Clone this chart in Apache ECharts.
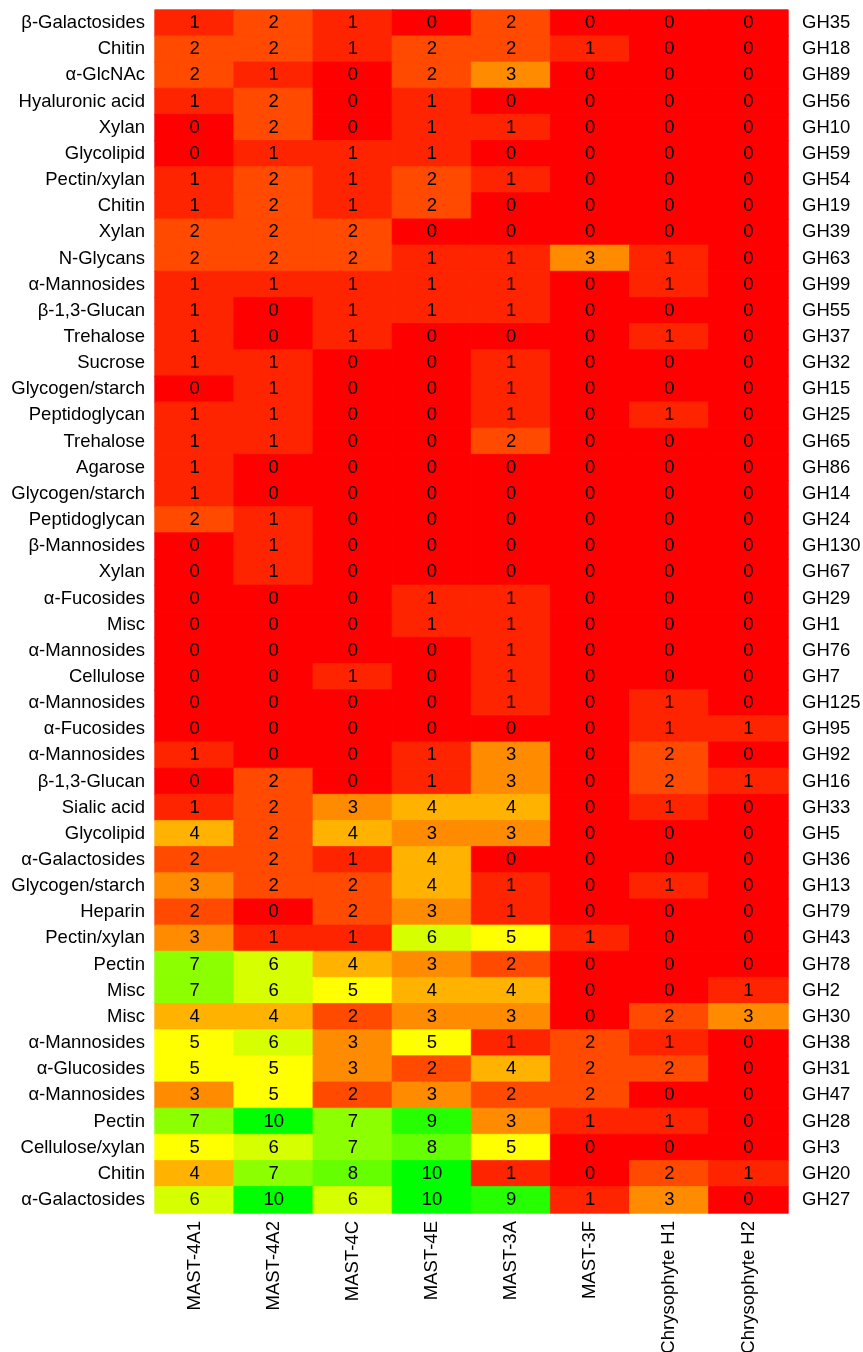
<!DOCTYPE html>
<html>
<head>
<meta charset="utf-8">
<script src="https://cdn.jsdelivr.net/npm/echarts@6/dist/echarts.min.js"></script>
<style>
html,body{margin:0;padding:0;background:#fff;overflow:hidden;}
#chart{width:863px;height:1352px;}
</style>
</head>
<body>
<div id="chart"></div>
<script>
const groups = ['MAST-4A1','MAST-4A2','MAST-4C','MAST-4E','MAST-3A','MAST-3F','Chrysophyte H1','Chrysophyte H2'];
const substrates = ['β-Galactosides','Chitin','α-GlcNAc','Hyaluronic acid','Xylan','Glycolipid','Pectin/xylan','Chitin','Xylan','N-Glycans','α-Mannosides','β-1,3-Glucan','Trehalose','Sucrose','Glycogen/starch','Peptidoglycan','Trehalose','Agarose','Glycogen/starch','Peptidoglycan','β-Mannosides','Xylan','α-Fucosides','Misc','α-Mannosides','Cellulose','α-Mannosides','α-Fucosides','α-Mannosides','β-1,3-Glucan','Sialic acid','Glycolipid','α-Galactosides','Glycogen/starch','Heparin','Pectin/xylan','Pectin','Misc','Misc','α-Mannosides','α-Glucosides','α-Mannosides','Pectin','Cellulose/xylan','Chitin','α-Galactosides'];
const families = ['GH35','GH18','GH89','GH56','GH10','GH59','GH54','GH19','GH39','GH63','GH99','GH55','GH37','GH32','GH15','GH25','GH65','GH86','GH14','GH24','GH130','GH67','GH29','GH1','GH76','GH7','GH125','GH95','GH92','GH16','GH33','GH5','GH36','GH13','GH79','GH43','GH78','GH2','GH30','GH38','GH31','GH47','GH28','GH3','GH20','GH27'];
const counts = [
[1,2,1,0,2,0,0,0],
[2,2,1,2,2,1,0,0],
[2,1,0,2,3,0,0,0],
[1,2,0,1,0,0,0,0],
[0,2,0,1,1,0,0,0],
[0,1,1,1,0,0,0,0],
[1,2,1,2,1,0,0,0],
[1,2,1,2,0,0,0,0],
[2,2,2,0,0,0,0,0],
[2,2,2,1,1,3,1,0],
[1,1,1,1,1,0,1,0],
[1,0,1,1,1,0,0,0],
[1,0,1,0,0,0,1,0],
[1,1,0,0,1,0,0,0],
[0,1,0,0,1,0,0,0],
[1,1,0,0,1,0,1,0],
[1,1,0,0,2,0,0,0],
[1,0,0,0,0,0,0,0],
[1,0,0,0,0,0,0,0],
[2,1,0,0,0,0,0,0],
[0,1,0,0,0,0,0,0],
[0,1,0,0,0,0,0,0],
[0,0,0,1,1,0,0,0],
[0,0,0,1,1,0,0,0],
[0,0,0,0,1,0,0,0],
[0,0,1,0,1,0,0,0],
[0,0,0,0,1,0,1,0],
[0,0,0,0,0,0,1,1],
[1,0,0,1,3,0,2,0],
[0,2,0,1,3,0,2,1],
[1,2,3,4,4,0,1,0],
[4,2,4,3,3,0,0,0],
[2,2,1,4,0,0,0,0],
[3,2,2,4,1,0,1,0],
[2,0,2,3,1,0,0,0],
[3,1,1,6,5,1,0,0],
[7,6,4,3,2,0,0,0],
[7,6,5,4,4,0,0,1],
[4,4,2,3,3,0,2,3],
[5,6,3,5,1,2,1,0],
[5,5,3,2,4,2,2,0],
[3,5,2,3,2,2,0,0],
[7,10,7,9,3,1,1,0],
[5,6,7,8,5,0,0,0],
[4,7,8,10,1,0,2,1],
[6,10,6,10,9,1,3,0]
];
const palette = ['#FF0000','#FF2400','#FF4A00','#FF8C00','#FFB300','#FFFF00','#D6FF00','#8CFF00','#66FF00','#26FF00','#00FF00'];

const cells = [];
counts.forEach((row, r) => row.forEach((v, c) => cells.push({
  value: [c, r, v],
  itemStyle: { color: palette[v], borderColor: palette[v], borderWidth: 0.8 }
})));

const FONT = 'Liberation Sans, Arial, sans-serif';
const FS = 18.5;
const chart = echarts.init(document.getElementById('chart'));
chart.setOption({
  animation: false,
  backgroundColor: '#ffffff',
  grid: { left: 155, top: 10, width: 633, height: 1203, containLabel: false, outerBoundsMode: 'none' },
  xAxis: {
    type: 'category', data: groups, position: 'bottom',
    axisLine: {show: false}, axisTick: {show: false}, splitLine: {show: false},
    axisLabel: { rotate: 90, margin: 8, color: '#000', fontSize: FS, fontFamily: FONT, interval: 0, hideOverlap: false }
  },
  yAxis: [
    { type: 'category', data: substrates, inverse: true, position: 'left',
      axisLine: {show: false}, axisTick: {show: false}, splitLine: {show: false},
      axisLabel: { margin: 10, color: '#000', fontSize: FS, fontFamily: FONT, interval: 0 } },
    { type: 'category', data: families, inverse: true, position: 'right',
      axisLine: {show: false}, axisTick: {show: false}, splitLine: {show: false},
      axisLabel: { margin: 14, color: '#000', fontSize: FS, fontFamily: FONT, interval: 0 } }
  ],
  series: [{
    type: 'heatmap', data: cells, xAxisIndex: 0, yAxisIndex: 0,
    label: { show: true, color: '#000', fontSize: FS, fontFamily: FONT },
    emphasis: { disabled: true }
  }]
});
</script>
</body>
</html>
